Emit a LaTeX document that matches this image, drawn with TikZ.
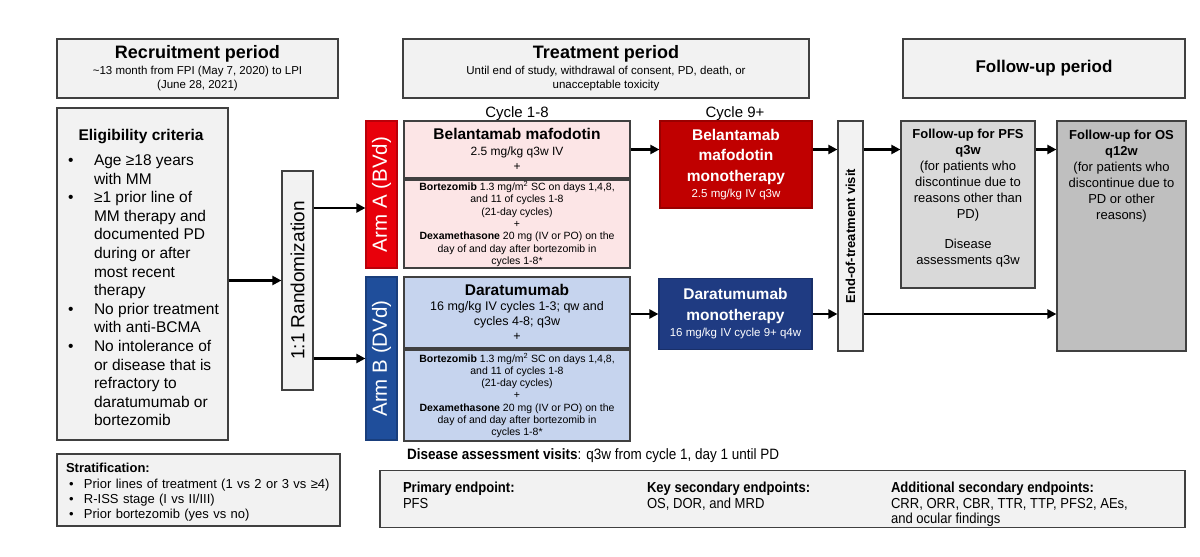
\documentclass[tikz,border=0pt]{standalone}
\usepackage{fontspec}
\setmainfont{Liberation Sans}
\newfontfamily\narrowfont[FakeStretch=0.9]{Liberation Sans}
\usetikzlibrary{arrows.meta}
\usetikzlibrary{positioning}
\usetikzlibrary{calc}
\definecolor{boxgray}{HTML}{F2F2F2}
\definecolor{edgegray}{HTML}{404040}
\definecolor{armred}{HTML}{E8000B}
\definecolor{monored}{HTML}{C00000}
\definecolor{armblue}{HTML}{1F4E9B}
\definecolor{monoblue}{HTML}{1F3B82}
\definecolor{lightpink}{HTML}{FCE5E6}
\definecolor{lightblue}{HTML}{C6D4EE}
\definecolor{pfsgray}{HTML}{D9D9D9}
\definecolor{osgray}{HTML}{BFBFBF}
\tikzset{panel/.style = {draw=edgegray, line width=1.2pt, fill=boxgray, inner sep=0, align=center}}
\tikzset{sized/.style 2 args = {minimum width=#1, minimum height=#2}}
\tikzset{link/.style = {line width=2.2pt, -{Triangle[length=9pt, width=9pt]}}}
\newcommand{\fs}[2]{\fontsize{#1}{#2}\selectfont}
\newcommand{\bul}{\makebox[28pt][l]{\hspace{2pt}•}}
\newcommand{\sbul}{\makebox[18pt][l]{\hspace{3pt}•}}

\begin{document}
\begin{tikzpicture}[x=1pt, y=-1pt]
      \useasboundingbox (0,0) rectangle (1200,557);

      % period headers
      \node [panel, sized={281pt}{59pt}, font=\fs{11.5}{14.5}] (recruit) at (197.5,68.5)
        {{\fs{18}{18}\bfseries Recruitment period}\\[1.2pt]
         \textasciitilde13 month from FPI (May 7, 2020) to LPI\\ (June 28, 2021)};
      \node [panel, sized={406pt}{59pt}, font=\fs{11.5}{14.5}] (treat) at (606,68.5)
        {{\fs{18}{18}\bfseries Treatment period}\\[1.2pt]
         Until end of study, withdrawal of consent, PD, death, or\\ unacceptable toxicity};
      \node [panel, sized={282pt}{59pt}, font=\fs{17}{17}\bfseries] (follow) at (1044,68.5) {Follow-up period};

      % eligibility and randomization
      \node [panel, sized={171pt}{332pt}, align=left, font=\fs{15.5}{18.6}] (elig) at (142.5,274)
        {\rule{0pt}{18.3pt}\makebox[150pt]{\bfseries Eligibility criteria}\\[6.5pt]
         \bul Age ≥18 years\\ \hspace*{28pt}with MM\\
         \bul ≥1 prior line of\\ \hspace*{28pt}MM therapy and\\ \hspace*{28pt}documented PD\\
         \hspace*{28pt}during or after\\ \hspace*{28pt}most recent\\ \hspace*{28pt}therapy\\
         \bul No prior treatment\\ \hspace*{28pt}with anti-BCMA\\
         \bul No intolerance of\\ \hspace*{28pt}or disease that is\\ \hspace*{28pt}refractory to\\
         \hspace*{28pt}daratumumab or\\ \hspace*{28pt}bortezomib};
      \node [panel, sized={31pt}{219pt}] (rand) at (297.5,280.5) {\rotatebox{90}{\fs{19}{19}1:1 Randomization}};

      % arms
      \node [panel, draw=armred!80!black, fill=armred, sized={31pt}{147pt}, text=white] (armA) at (381.5,194.5)
        {\rotatebox{90}{\fs{20.5}{20.5}Arm A (BVd)}};
      \node [panel, draw=armblue!80!black, fill=armblue, sized={31pt}{163pt}, text=white] (armB) at (381.5,358.5)
        {\rotatebox{90}{\fs{20.5}{20.5}Arm B (DVd)}};

      \node [anchor=base, font=\fs{15}{15}] (cyc18) at (517,117.5) {Cycle 1-8};
      \node [anchor=base, font=\fs{15}{15}] (cyc9) at (735,117.5) {Cycle 9+};

      \node [panel, fill=lightpink, sized={226pt}{57pt}, font=\fs{12}{15.5}] (belA) at (517,149.5)
        {{\fs{15.5}{15.5}\bfseries Belantamab mafodotin}\\ 2.5 mg/kg q3w IV\\ +};
      \node [panel, fill=lightpink, sized={226pt}{88pt}, font=\fs{10.5}{12.3}] (bortA) at (517,224)
        {\textbf{Bortezomib} 1.3 mg/m\textsuperscript{2} SC on days 1,4,8,\\ and 11 of cycles 1-8\\ (21-day cycles)\\ +\\
         \textbf{Dexamethasone} 20 mg (IV or PO) on the\\ day of and day after bortezomib in\\ cycles 1-8*};
      \node [panel, fill=lightblue, sized={226pt}{71pt}, font=\fs{12.5}{15}] (dara) at (517,312.5)
        {{\fs{15.5}{15.5}\bfseries Daratumumab}\\ 16 mg/kg IV cycles 1-3; qw and\\ cycles 4-8; q3w\\ +};
      \node [panel, fill=lightblue, sized={226pt}{91pt}, font=\fs{10.5}{12.3}] (bortB) at (517,395.5)
        {\textbf{Bortezomib} 1.3 mg/m\textsuperscript{2} SC on days 1,4,8,\\ and 11 of cycles 1-8\\ (21-day cycles)\\ +\\
         \textbf{Dexamethasone} 20 mg (IV or PO) on the\\ day of and day after bortezomib in\\ cycles 1-8*};

      % monotherapy, end of treatment and follow-up
      \node [panel, draw=monored!80!black, fill=monored, text=white, sized={152pt}{87pt}, font=\fs{15.5}{20.5}\bfseries] (monoA) at (736,164.5)
        {Belantamab\\ mafodotin\\ monotherapy\\[-4pt] {\fs{11.5}{14}\mdseries 2.5 mg/kg IV q3w}};
      \node [panel, draw=monoblue!80!black, fill=monoblue, text=white, sized={153pt}{71pt}, font=\fs{15.5}{20.5}\bfseries] (monoB) at (735.5,314)
        {Daratumumab\\ monotherapy\\[-4pt] {\fs{11.5}{14}\mdseries 16 mg/kg IV cycle 9+ q4w}};
      \node [panel, sized={25pt}{230pt}] (eot) at (850.5,236) {\rotatebox{90}{\fs{13}{13}\bfseries End-of-treatment visit}};
      \node [panel, fill=pfsgray, sized={134pt}{167pt}, font=\fs{13}{16}] (pfs) at (968,204.5)
        {\textbf{Follow-up for PFS}\\ \textbf{q3w}\\ (for patients who\\ discontinue due to\\ reasons other than\\ PD)\\[14pt]
         Disease\\ assessments q3w\\[0pt] \mbox{}};
      \node [panel, fill=osgray, sized={129pt}{230pt}, font=\fs{13}{16}] (os) at (1121.5,236)
        {\textbf{Follow-up for OS}\\ \textbf{q12w}\\ (for patients who\\ discontinue due to\\ PD or other\\ reasons)\\[106pt] \mbox{}};

      % stratification and endpoints
      \node [panel, sized={283pt}{72pt}, text width=265pt, align=left, font=\fs{13}{15.3}] (strat) at (198.5,490)
        {\rule{0pt}{14.5pt}\textbf{Stratification:}\\ \sbul Prior lines of treatment (1 vs 2 or 3 vs ≥4)\\
         \sbul R-ISS stage (I vs II/III)\\ \sbul Prior bortezomib (yes vs no)};
      \node [anchor=west, inner sep=0, font=\narrowfont\fs{15}{15}] (visits) at (407,456)
        {\textbf{Disease assessment visits}: q3w from cycle 1, day 1 until PD};
      \node [panel, sized={805pt}{54pt}, font=\narrowfont\fs{14.5}{15}] (endpts) at (782.5,499)
        {\begin{tabular}{@{}p{244pt}@{}p{244pt}@{}p{271pt}@{}}
           \rule{0pt}{22.5pt}\textbf{Primary endpoint:} & \textbf{Key secondary endpoints:} & \textbf{Additional secondary endpoints:}\\
           PFS & OS, DOR, and MRD & CRR, ORR, CBR, TTR, TTP, PFS2, AEs,\\
           & & and ocular findings
         \end{tabular}};

      % connectors
      \coordinate (toA) at ($(armA.west)+(0,13.5)$);
      \draw [link] (elig.east |- rand) -- (rand.west);
      \draw [link] (rand.east |- toA) -- (toA);
      \draw [link] (rand.east |- armB) -- (armB.west);
      \draw [link] (belA.east) -- (belA.east -| monoA.west);
      \draw [link] (monoA.east |- belA.east) -- (eot.west |- belA.east);
      \draw [link] (eot.east |- belA.east) -- (pfs.west |- belA.east);
      \draw [link] (pfs.east |- belA.east) -- (os.west |- belA.east);
      \draw [link] (dara.east |- monoB) -- (monoB.west);
      \draw [link] (monoB.east) -- (eot.west |- monoB);
      \draw [link] (eot.east |- monoB) -- (os.west |- monoB);
\end{tikzpicture}
\end{document}
